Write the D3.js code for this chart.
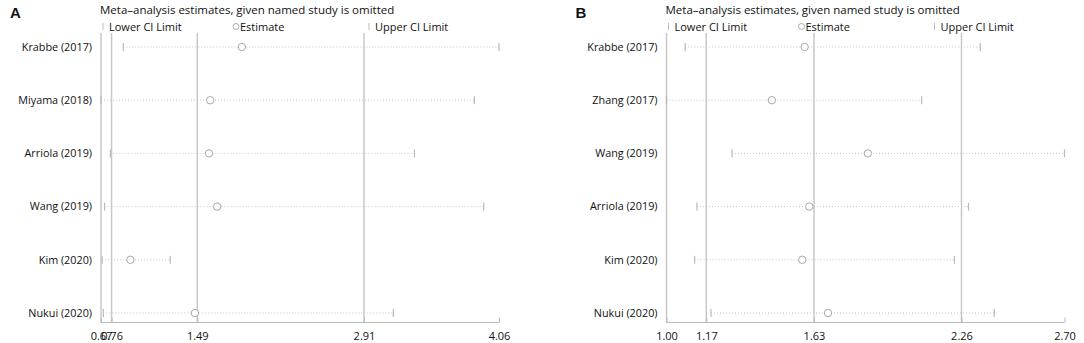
<!DOCTYPE html>
<html>
<head>
<meta charset="utf-8">
<script src="https://cdn.jsdelivr.net/npm/d3@7"></script>
<style>
  body { margin: 0; background: #fff; }
  svg { display: block; font-family: "Open Sans", "Noto Sans", sans-serif; }
</style>
</head>
<body>
<script>
// panel A
const studiesA = ['Krabbe (2017)', 'Miyama (2018)', 'Arriola (2019)', 'Wang (2019)', 'Kim (2020)', 'Nukui (2020)'];
const lowerA = [0.86, 0.67, 0.75, 0.70, 0.68, 0.69];
const estA = [1.87, 1.60, 1.59, 1.66, 0.92, 1.47];
const upperA = [4.06, 3.85, 3.34, 3.93, 1.26, 3.16];
const ticksA = [0.67, 0.76, 1.49, 2.91, 4.06];

// panel B
const studiesB = ['Krabbe (2017)', 'Zhang (2017)', 'Wang (2019)', 'Arriola (2019)', 'Kim (2020)', 'Nukui (2020)'];
const lowerB = [1.08, 1.00, 1.28, 1.13, 1.12, 1.19];
const estB = [1.59, 1.45, 1.86, 1.61, 1.58, 1.69];
const upperB = [2.34, 2.09, 2.70, 2.29, 2.23, 2.40];
const ticksB = [1.00, 1.17, 1.63, 2.26, 2.70];

const W = 1084, H = 343;
const svg = d3.select('body').append('svg')
    .attr('width', W)
    .attr('height', H);

function panel(letter, x0, studies, lower, est, upper, ticks) {
    const g = svg.append('g').attr('transform', `translate(${x0},0)`);
    const x = d3.scaleLinear()
        .domain([ticks[0], ticks[ticks.length - 1]])
        .range([101, 499]);
    const y = d3.scalePoint()
        .domain(studies)
        .range([47, 313]);
    const axisY = 322.5;

    g.append('text')
        .attr('x', 10).attr('y', 18)
        .attr('font-size', 15).attr('font-weight', 'bold')
        .attr('font-family', 'Liberation Sans, Arial, sans-serif')
        .attr('fill', '#111')
        .text(letter);

    g.append('text')
        .attr('x', 100).attr('y', 14)
        .attr('font-size', 11.5).attr('fill', '#111')
        .text('Meta\u2013analysis estimates, given named study is omitted');

    // legend
    const leg = g.append('g').attr('font-size', 11).attr('fill', '#111');
    [[103, 'Lower CI Limit'], [369, 'Upper CI Limit']].forEach(([lx, t]) => {
        leg.append('line')
            .attr('x1', lx).attr('x2', lx).attr('y1', 23).attr('y2', 30)
            .attr('stroke', '#bbb').attr('stroke-width', 1);
        leg.append('text').attr('x', lx + 6).attr('y', 30.5).text(t);
    });
    leg.append('circle')
        .attr('cx', 236).attr('cy', 26.5).attr('r', 3)
        .attr('fill', '#fff').attr('stroke', '#aaa');
    leg.append('text').attr('x', 240).attr('y', 30.5).text('Estimate');

    // reference lines
    g.append('g').selectAll('line')
        .data(ticks.slice(0, 4))
        .join('line')
        .attr('x1', d => x(d)).attr('x2', d => x(d))
        .attr('y1', 33).attr('y2', axisY)
        .attr('stroke', '#c8c8c8').attr('stroke-width', 1.5);

    const rows = g.append('g').selectAll('g')
        .data(studies)
        .join('g')
        .attr('transform', d => `translate(0,${y(d)})`);

    rows.append('text')
        .attr('x', 92).attr('dy', '0.35em')
        .attr('text-anchor', 'end')
        .attr('font-size', 10.8).attr('fill', '#111')
        .text(d => d);

    rows.append('line')
        .attr('x1', (d, i) => x(lower[i])).attr('x2', (d, i) => x(upper[i]))
        .attr('stroke', '#c4c4c4').attr('stroke-width', 1)
        .attr('stroke-dasharray', '1,2');

    rows.append('line')
        .attr('x1', (d, i) => x(lower[i])).attr('x2', (d, i) => x(lower[i]))
        .attr('y1', -4).attr('y2', 4)
        .attr('stroke', '#bbb').attr('stroke-width', 1.2);

    rows.append('line')
        .attr('x1', (d, i) => x(upper[i])).attr('x2', (d, i) => x(upper[i]))
        .attr('y1', -4).attr('y2', 4)
        .attr('stroke', '#bbb').attr('stroke-width', 1.2);

    rows.append('circle')
        .attr('cx', (d, i) => x(est[i]))
        .attr('r', 3.7)
        .attr('fill', '#fff').attr('stroke', '#a8a8a8').attr('stroke-width', 1);

    // axis
    const ax = g.append('g')
        .attr('transform', `translate(0,${axisY})`)
        .call(d3.axisBottom(x).tickValues(ticks).tickFormat(d3.format('.2f')).tickSize(5).tickPadding(4));
    ax.select('.domain').attr('stroke', '#bbb').attr('d', `M${x.range()[0]},0H${x.range()[1]}`);
    ax.selectAll('.tick line').attr('stroke', '#bbb').attr('y1', -5).attr('y2', 0);
    ax.selectAll('.tick text')
        .attr('font-size', 11).attr('fill', '#111')
        .attr('font-family', 'Open Sans, Noto Sans, sans-serif')
        .attr('y', 10);
}

panel('A', 0, studiesA, lowerA, estA, upperA, ticksA);
panel('B', 565.5, studiesB, lowerB, estB, upperB, ticksB);
</script>
</body>
</html>
